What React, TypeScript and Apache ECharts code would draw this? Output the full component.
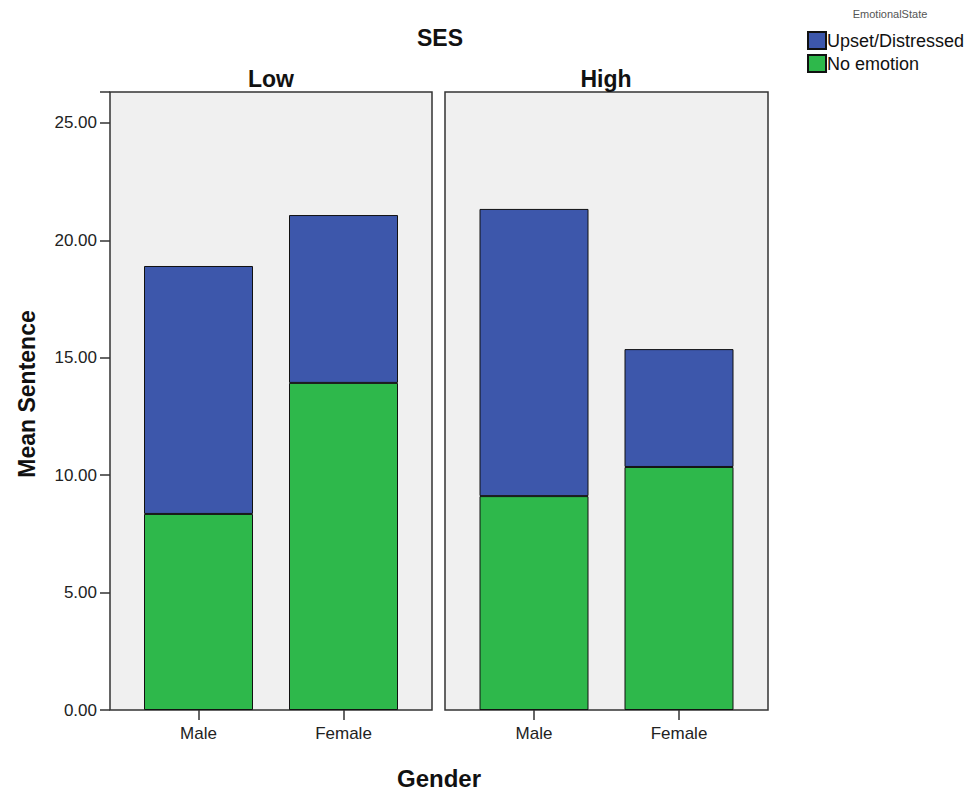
import React, { useEffect, useRef } from "react";
import * as echarts from "echarts";

const genders = ["Male", "Female"];
const panels = ["Low", "High"];
const noEmotionLow = [8.35, 13.93];
const upsetLow = [10.56, 7.15];
const noEmotionHigh = [9.11, 10.35];
const upsetHigh = [12.23, 5.02];
const yTicks = [0, 5, 10, 15, 20, 25];

const BLUE = "#3d57ab";
const GREEN = "#2eb84b";
const FONT = "Liberation Sans, Arial, sans-serif";

export default function App() {
  const ref = useRef<HTMLDivElement>(null);
  useEffect(() => {
    if (!ref.current) return;
    const chart = echarts.init(ref.current, undefined, { renderer: "svg" });
    const yMax = 26.32;
    const panelGrids = [
      { left: 110, top: 92, width: 322, height: 618 },
      { left: 445, top: 92, width: 323, height: 618 },
    ];
    const dataGrids = [
      { left: 126, top: 92, width: 290, height: 618 },
      { left: 461.5, top: 92, width: 290, height: 618 },
    ];
    const grids: any[] = [];
    panelGrids.forEach((g) =>
      grids.push({
        ...g,
        show: true,
        backgroundColor: "#f0f0f0",
        borderColor: "#333",
        borderWidth: 1.5,
        containLabel: false,
      })
    );
    dataGrids.forEach((g) => grids.push({ ...g, show: false, containLabel: false }));

    const xAxes: any[] = [];
    const yAxes: any[] = [];
    [0, 1].forEach((i) => {
      xAxes.push({ type: "value", gridIndex: i, show: false, min: 0, max: 1 });
      yAxes.push({
        type: "value",
        gridIndex: i,
        min: 0,
        max: yMax,
        interval: 5,
        show: i === 0,
        axisLine: { show: false },
        axisTick: { show: true, length: 10, lineStyle: { color: "#333", width: 1.5 } },
        axisLabel: {
          show: true,
          margin: 13,
          fontSize: 17,
          fontFamily: FONT,
          color: "#222",
          formatter: (v: number) => (yTicks.includes(v) ? v.toFixed(2) : ""),
        },
        splitLine: { show: false },
      });
    });
    [2, 3].forEach((i) => {
      xAxes.push({
        type: "category",
        gridIndex: i,
        data: genders,
        axisLine: { show: false },
        axisTick: { show: true, alignWithLabel: true, length: 10, lineStyle: { color: "#333", width: 1.5 } },
        axisLabel: { margin: 15, fontSize: 17, fontFamily: FONT, color: "#222" },
      });
      yAxes.push({ type: "value", gridIndex: i, min: 0, max: yMax, show: false, splitLine: { show: false } });
    });

    const barStyle = (c: string) => ({ color: c, borderColor: "#111", borderWidth: 1 });
    const series: any[] = [
      { name: "No emotion", type: "bar", xAxisIndex: 2, yAxisIndex: 2, stack: "low", barWidth: 109, data: noEmotionLow, itemStyle: barStyle(GREEN) },
      { name: "Upset/Distressed", type: "bar", xAxisIndex: 2, yAxisIndex: 2, stack: "low", barWidth: 109, data: upsetLow, itemStyle: barStyle(BLUE) },
      { name: "No emotion", type: "bar", xAxisIndex: 3, yAxisIndex: 3, stack: "high", barWidth: 109, data: noEmotionHigh, itemStyle: barStyle(GREEN) },
      { name: "Upset/Distressed", type: "bar", xAxisIndex: 3, yAxisIndex: 3, stack: "high", barWidth: 109, data: upsetHigh, itemStyle: barStyle(BLUE) },
    ];

    const boldText = (text: string, x: number, y: number, size: number, rot = 0) => ({
      type: "text",
      x,
      y,
      rotation: rot,
      style: {
        text,
        fontSize: size,
        fontWeight: "bold",
        fontFamily: FONT,
        fill: "#111",
        textAlign: "center",
        textVerticalAlign: "middle",
      },
    });

    chart.setOption({
      animation: false,
      backgroundColor: "#ffffff",
      grid: grids,
      xAxis: xAxes,
      yAxis: yAxes,
      series,
      legend: {
        left: 807,
        top: 31,
        orient: "vertical",
        itemWidth: 18,
        itemHeight: 17,
        itemGap: 4,
        icon: "rect",
        data: ["Upset/Distressed", "No emotion"],
        textStyle: { fontSize: 18, fontFamily: FONT, color: "#111", padding: [0, 0, 0, -4] },
        padding: 0,
      },
      graphic: [
        boldText("SES", 440, 38, 23),
        boldText(panels[0], 271, 79, 23),
        boldText(panels[1], 606, 79, 23),
        boldText("Gender", 439, 778, 24),
        boldText("Mean Sentence", 27, 394, 23, Math.PI / 2),
        {
          type: "text",
          x: 890,
          y: 14,
          style: {
            text: "EmotionalState",
            fontSize: 11,
            fontFamily: FONT,
            fill: "#555",
            textAlign: "center",
            textVerticalAlign: "middle",
          },
        },
      ],
    });
    return () => chart.dispose();
  }, []);
  return (
    <div
      ref={ref}
      style={{ position: "absolute", left: 0, top: 0, width: 972, height: 795 }}
    />
  );
}
